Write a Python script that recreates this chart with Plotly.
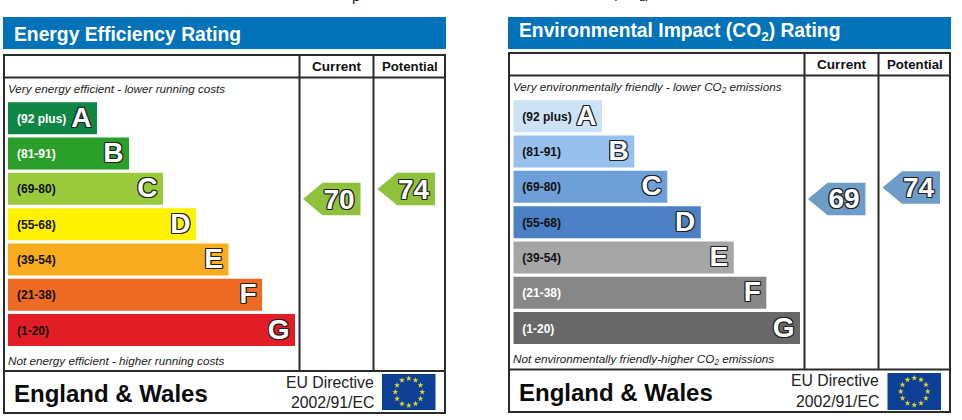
import numpy as np
import plotly.graph_objects as go

BANDS = ["(92 plus)", "(81-91)", "(69-80)", "(55-68)", "(39-54)", "(21-38)", "(1-20)"]
LETTERS = ["A", "B", "C", "D", "E", "F", "G"]

EE_LENGTHS = [89, 121, 155, 188, 220.5, 254, 287]
CO2_LENGTHS = [88.7, 121, 154, 187.5, 220.5, 253, 286.7]

EE_COLORS = ["#0f8644", "#2a9f2a", "#9aca3c", "#fff200", "#f8ac1e", "#ee6a25", "#e31d26"]
CO2_COLORS = ["#cde2f5", "#98c0ec", "#6e9fd6", "#4c80c4", "#a6a6a6", "#878787", "#686868"]
EE_LABEL_COLORS = ["#ffffff", "#ffffff", "#111111", "#111111", "#111111", "#111111", "#111111"]
CO2_LABEL_COLORS = ["#111111", "#111111", "#111111", "#111111", "#111111", "#ffffff", "#ffffff"]

EE_CURRENT, EE_POTENTIAL = 70, 74
CO2_CURRENT, CO2_POTENTIAL = 69, 74

W, H = 962, 420
FONT = "Liberation Sans"
DARK = "#2b2b2b"
OUTLINE = ",".join(f"{dx}px {dy}px 0 #222" for dx, dy in
                   [(1, 0), (-1, 0), (0, 1), (0, -1), (1, 1), (-1, -1), (1, -1), (-1, 1)])

fig = go.Figure()
shapes, annotations = [], []


def note(x, y, text, size, color="#111111", bold=False, italic=False, xanchor="left", yanchor="middle"):
    annotations.append(dict(
        x=x, y=y, xref="x3", yref="y3", text=text, showarrow=False, xanchor=xanchor, yanchor=yanchor,
        borderpad=0, borderwidth=0,
        font=dict(family=FONT, size=size, color=color,
                  weight="bold" if bold else "normal", style="italic" if italic else "normal")))


def rect(x0, y0, x1, y1, fill=None, line=None, width=0):
    shapes.append(dict(type="rect", xref="x3", yref="y3", x0=x0, y0=y0, x1=x1, y1=y1, layer="below",
                       fillcolor=fill or "rgba(0,0,0,0)",
                       line=dict(color=line or "rgba(0,0,0,0)", width=width)))


def seg(x0, y0, x1, y1):
    shapes.append(dict(type="line", xref="x3", yref="y3", x0=x0, y0=y0, x1=x1, y1=y1, layer="below",
                       line=dict(color=DARK, width=2)))


def panel(xa, ya, text_ya, lengths, colors, label_colors):
    fig.add_trace(go.Bar(y=LETTERS, x=lengths, orientation="h", xaxis=xa, yaxis=ya,
                         marker=dict(color=colors, line=dict(width=0)), width=0.907, hoverinfo="skip"))
    fig.add_trace(go.Scatter(y=LETTERS, x=[9] * 7, mode="text", text=BANDS, textposition="middle right",
                             xaxis=xa, yaxis=text_ya, cliponaxis=False, hoverinfo="skip",
                             textfont=dict(family=FONT, size=12, color=label_colors, weight="bold")))
    fig.add_trace(go.Scatter(y=LETTERS, x=[v - 5.5 for v in lengths], mode="text", text=LETTERS,
                             textposition="middle left", xaxis=xa, yaxis=text_ya, cliponaxis=False, hoverinfo="skip",
                             textfont=dict(family=FONT, size=28, color="#ffffff", weight="bold", shadow=OUTLINE)))


def pointer(right, rating, ya, half, color):
    body, slant = 38, 19.5
    xs = [right - body - slant, right - body, right, right, right - body, right - body - slant]
    ys = [rating, rating + half, rating + half, rating - half, rating - half, rating]
    fig.add_trace(go.Scatter(x=xs, y=ys, mode="lines", fill="toself", fillcolor=color, line=dict(width=0),
                             xaxis="x3", yaxis=ya, hoverinfo="skip"))
    fig.add_trace(go.Scatter(x=[right - 21.5], y=[rating - 1.0], mode="text", text=[str(rating)],
                             textposition="middle center", xaxis="x3", yaxis=ya, cliponaxis=False, hoverinfo="skip",
                             textfont=dict(family=FONT, size=28, color="#ffffff", weight="bold", shadow=OUTLINE)))


def flag(x0, y0, x1, y1):
    rect(x0, y0, x1, y1, fill="#0d3f94")
    cx, cy = (x0 + x1) / 2, (y0 + y1) / 2
    ang = np.arange(12) * np.pi / 6
    fig.add_trace(go.Scatter(x=cx + 13.5 * np.cos(ang), y=cy + 13.5 * np.sin(ang), mode="markers",
                             marker=dict(symbol="star", size=4.5, color="#e8d52a", line=dict(width=0)),
                             xaxis="x3", yaxis="y3", hoverinfo="skip"))


def frame(left, top, hdr, col1, col2, right, foot, bottom, band_l, band_r):
    rect(band_l, 17, band_r, 49, fill="#0272b9")
    rect(left, top, right, bottom, line=DARK, width=2)
    seg(left, hdr, right, hdr)
    seg(left, foot, right, foot)
    seg(col1, top, col1, foot)
    seg(col2, top, col2, foot)
    note((col1 + col2) / 2, (top + hdr) / 2 + 0.5, "Current", 13.6, bold=True, xanchor="center")
    note((col2 + right) / 2 + 0.5, (top + hdr) / 2 + 0.5, "Potential", 13.2, bold=True, xanchor="center")


panel("x", "y", "y6", EE_LENGTHS, EE_COLORS, EE_LABEL_COLORS)
panel("x2", "y2", "y7", CO2_LENGTHS, CO2_COLORS, CO2_LABEL_COLORS)

frame(4, 55, 77.5, 299.5, 373.5, 445, 371, 413, 3, 446)
frame(509, 53, 75.5, 804.5, 878.5, 950, 369.5, 412, 508, 951)

GREEN_ARROW, BLUE_ARROW = "#8fc13c", "#6e9cc8"
pointer(360.5, EE_CURRENT, "y4", 6.5, GREEN_ARROW)
pointer(435, EE_POTENTIAL, "y4", 6.5, GREEN_ARROW)
pointer(865.5, CO2_CURRENT, "y5", 7.1, BLUE_ARROW)
pointer(940, CO2_POTENTIAL, "y5", 7.1, BLUE_ARROW)

flag(382, 374, 435.5, 410)
flag(887.5, 373, 941, 410)

note(14, 34, "Energy Efficiency Rating", 19.3, color="#ffffff", bold=True)
note(519, 32, "Environmental Impact (CO<sub>2</sub>) Rating", 19.3, color="#ffffff", bold=True)
note(8, 88.5, "Very energy efficient - lower running costs", 11.7, color="#222222", italic=True)
note(8, 360, "Not energy efficient - higher running costs", 11.7, color="#222222", italic=True)
note(513, 87, "Very environmentally friendly - lower CO<sub>2</sub> emissions", 11.7, color="#222222", italic=True)
note(513, 359, "Not environmentally friendly-higher CO<sub>2</sub> emissions", 11.7, color="#222222", italic=True)
note(14, 393, "England &amp; Wales", 24, color="#0a0a0a", bold=True)
note(519, 392, "England &amp; Wales", 24, color="#0a0a0a", bold=True)
note(374, 382, "EU Directive", 15.8, color="#222222", xanchor="right")
note(374, 402, "2002/91/EC", 15.8, color="#222222", xanchor="right")
note(879, 380, "EU Directive", 15.8, color="#222222", xanchor="right")
note(879, 401, "2002/91/EC", 15.8, color="#222222", xanchor="right")
note(612, 3.5, "(CO<sub>2</sub>)", 15, color="#222222", yanchor="bottom")
note(352, 3.5, "p", 15, color="#222222", yanchor="bottom")


def hidden(**kw):
    return dict(visible=False, fixedrange=True, showgrid=False, zeroline=False, **kw)


def ydom(top, bottom):
    return [1 - bottom / H, 1 - top / H]


def band_axis(top, bottom, anchor):
    return hidden(domain=ydom(top, bottom), range=[6.5, -0.5], anchor=anchor, type="category",
                  categoryorder="array", categoryarray=LETTERS)


PX = dict(x=[0, W], y=[H, 0])
layout = dict(
    width=W, height=H, margin=dict(l=0, r=0, t=0, b=0), showlegend=False, autosize=False,
    paper_bgcolor="#ffffff", plot_bgcolor="rgba(0,0,0,0)", barmode="overlay",
    xaxis=hidden(domain=[8 / W, 295 / W], range=[0, 287], anchor="y"),
    yaxis=band_axis(100.6, 347.7, "x"),
    xaxis2=hidden(domain=[513.3 / W, 800 / W], range=[0, 286.7], anchor="y2"),
    yaxis2=band_axis(98.6, 345.7, "x2"),
    xaxis3=hidden(domain=[0, 1], range=PX["x"], anchor="y3"),
    yaxis3=hidden(domain=[0, 1], range=PX["y"], anchor="x3"),
    # Rating scales: they place the pointers by their rating value.
    yaxis4=hidden(domain=[0, 1], range=[-18.4, 149.6], anchor="x3", overlaying="y3"),
    yaxis5=hidden(domain=[0, 1], range=[-27.1, 155.5], anchor="x3", overlaying="y3"),
    # The same band scales, set slightly lower for the text that sits in the bars.
    yaxis6=band_axis(102.1, 349.2, "x"),
    yaxis7=band_axis(100.1, 347.2, "x2"),
    shapes=shapes, annotations=annotations,
)
fig.update_layout(**layout)
fig.write_html("out.html", config=dict(displayModeBar=False),
               post_script="document.body.style.margin='0';")
